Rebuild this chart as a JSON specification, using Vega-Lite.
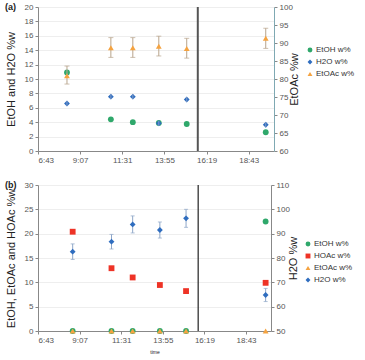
{
  "$schema": "https://vega.github.io/schema/vega-lite/v6.json",
  "padding": {"left": 5, "top": 3, "right": 2, "bottom": 0},
  "config": {
    "font": "Liberation Sans",
    "view": {"stroke": null},
    "axis": {"labelFontSize": 8, "labelColor": "#555555", "tickColor": "#888888", "domainColor": "#888888", "tickSize": 3, "titleFontSize": 11, "titleFontWeight": "normal", "titleColor": "#222222", "gridColor": "#eeeeee", "labelPadding": 2, "labelOverlap": false},
    "legend": {"labelFontSize": 8, "labelColor": "#333333", "symbolSize": 24, "rowPadding": 4, "labelOffset": 2},
    "title": {"fontSize": 9, "fontWeight": "bold", "color": "#222222"}
  },
  "datasets": {
    "a": [
      {"time": 8.37, "series": "EtOH w%", "value": 10.9},
      {"time": 10.87, "series": "EtOH w%", "value": 4.4},
      {"time": 12.12, "series": "EtOH w%", "value": 4.0},
      {"time": 13.6, "series": "EtOH w%", "value": 3.9},
      {"time": 15.19, "series": "EtOH w%", "value": 3.75},
      {"time": 19.69, "series": "EtOH w%", "value": 2.6},
      {"time": 8.37, "series": "H2O w%", "value": 6.6, "lo": 6.25, "hi": 6.95},
      {"time": 10.87, "series": "H2O w%", "value": 7.55, "lo": 7.2, "hi": 7.9},
      {"time": 12.12, "series": "H2O w%", "value": 7.55, "lo": 7.2, "hi": 7.9},
      {"time": 13.6, "series": "H2O w%", "value": 3.85, "lo": 3.5, "hi": 4.2},
      {"time": 15.19, "series": "H2O w%", "value": 7.15, "lo": 6.8, "hi": 7.5},
      {"time": 19.69, "series": "H2O w%", "value": 3.65, "lo": 3.3, "hi": 4.0},
      {"time": 8.37, "series": "EtOAc w%", "value": 80.9, "lo": 78.6, "hi": 83.6},
      {"time": 10.87, "series": "EtOAc w%", "value": 88.7, "lo": 86.0, "hi": 91.5},
      {"time": 12.12, "series": "EtOAc w%", "value": 88.7, "lo": 86.0, "hi": 91.5},
      {"time": 13.6, "series": "EtOAc w%", "value": 89.1, "lo": 86.4, "hi": 91.9},
      {"time": 15.19, "series": "EtOAc w%", "value": 88.5, "lo": 85.8, "hi": 91.3},
      {"time": 19.69, "series": "EtOAc w%", "value": 91.3, "lo": 88.5, "hi": 94.1}
    ],
    "b": [
      {"time": 8.72, "series": "EtOH w%", "value": 0},
      {"time": 10.96, "series": "EtOH w%", "value": 0},
      {"time": 12.18, "series": "EtOH w%", "value": 0},
      {"time": 13.75, "series": "EtOH w%", "value": 0},
      {"time": 15.26, "series": "EtOH w%", "value": 0},
      {"time": 19.85, "series": "EtOH w%", "value": 22.5},
      {"time": 8.72, "series": "HOAc w%", "value": 20.4},
      {"time": 10.96, "series": "HOAc w%", "value": 12.9},
      {"time": 12.18, "series": "HOAc w%", "value": 11.0},
      {"time": 13.75, "series": "HOAc w%", "value": 9.45},
      {"time": 15.26, "series": "HOAc w%", "value": 8.2},
      {"time": 19.85, "series": "HOAc w%", "value": 9.9},
      {"time": 8.72, "series": "EtOAc w%", "value": 0},
      {"time": 10.96, "series": "EtOAc w%", "value": 0},
      {"time": 12.18, "series": "EtOAc w%", "value": 0},
      {"time": 13.75, "series": "EtOAc w%", "value": 0},
      {"time": 15.26, "series": "EtOAc w%", "value": 0},
      {"time": 19.85, "series": "EtOAc w%", "value": 0},
      {"time": 8.72, "series": "H2O w%", "value": 82.6, "lo": 79.4, "hi": 85.8},
      {"time": 10.96, "series": "H2O w%", "value": 86.7, "lo": 83.7, "hi": 89.7},
      {"time": 12.18, "series": "H2O w%", "value": 93.8, "lo": 90.3, "hi": 97.3},
      {"time": 13.75, "series": "H2O w%", "value": 91.5, "lo": 88.2, "hi": 94.8},
      {"time": 15.26, "series": "H2O w%", "value": 96.3, "lo": 92.6, "hi": 100.0},
      {"time": 19.85, "series": "H2O w%", "value": 64.8, "lo": 62.1, "hi": 67.5}
    ],
    "ea": [{"t": 15.82}],
    "eb": [{"t": 15.96}]
  },
  "spacing": 17,
  "vconcat": [
    {
      "title": {"text": "(a)", "anchor": "start", "frame": "group", "dx": -33, "offset": -9},
      "width": 236,
      "height": 144,
      "data": {"name": "a"},
      "layer": [
        {
          "transform": [{"filter": "datum.series == 'EtOH w%' || datum.series == 'H2O w%'"}],
          "encoding": {
            "x": {"field": "time", "type": "quantitative", "scale": {"domain": [6.72, 20.16], "nice": false, "zero": false}, "axis": {"values": [6.72, 9.12, 11.52, 13.92, 16.32, 18.72], "labelExpr": "floor(datum.value) + ':' + format(round((datum.value - floor(datum.value)) * 60), '02d')", "title": null, "grid": false}}
          },
          "layer": [
            {
              "mark": {"type": "point", "filled": true, "opacity": 1, "size": 34},
              "encoding": {
                "y": {"field": "value", "type": "quantitative", "scale": {"domain": [0, 20], "nice": false}, "title": "EtOH and H2O %w", "axis": {"values": [0, 2, 4, 6, 8, 10, 12, 14, 16, 18, 20], "labelOverlap": false, "grid": true, "titlePadding": 8}},
                "color": {"field": "series", "type": "nominal", "scale": {"domain": ["EtOH w%", "H2O w%", "EtOAc w%"], "range": ["#2fa86b", "#2f6dbf", "#f5a340"]}, "legend": {"title": null, "orient": "none", "legendX": 268, "legendY": 39}},
                "shape": {"field": "series", "type": "nominal", "scale": {"domain": ["EtOH w%", "H2O w%", "EtOAc w%"], "range": ["circle", "diamond", "triangle-up"]}, "legend": {"title": null, "orient": "none", "legendX": 268, "legendY": 39}}
              }
            },
            {
              "transform": [{"filter": "datum.lo != null"}],
              "mark": {"type": "rule", "color": "#7f9cc8", "strokeWidth": 1},
              "encoding": {
                "y": {"field": "lo", "type": "quantitative", "title": "EtOH and H2O %w", "axis": {"values": [0, 2, 4, 6, 8, 10, 12, 14, 16, 18, 20], "labelOverlap": false, "grid": true, "titlePadding": 8}},
                "y2": {"field": "hi"}
              }
            }
          ]
        },
        {
          "transform": [{"filter": "datum.series == 'EtOAc w%'"}],
          "encoding": {
            "x": {"field": "time", "type": "quantitative"}
          },
          "layer": [
            {
              "mark": {"type": "rule", "color": "#b8a48c", "strokeWidth": 1},
              "encoding": {
                "y": {"field": "lo", "type": "quantitative", "title": "EtOAc %w", "axis": {"orient": "right", "values": [60, 65, 70, 75, 80, 85, 90, 95, 100], "labelOverlap": false, "grid": false, "titleAngle": 270, "titlePadding": 7, "domainColor": "#7fa9b3"}},
                "y2": {"field": "hi"}
              }
            },
            {
              "mark": {"type": "tick", "orient": "horizontal", "color": "#b8a48c", "size": 5, "thickness": 1},
              "encoding": {
                "y": {"field": "lo", "type": "quantitative", "title": "EtOAc %w", "axis": {"orient": "right", "values": [60, 65, 70, 75, 80, 85, 90, 95, 100], "labelOverlap": false, "grid": false, "titleAngle": 270, "titlePadding": 7, "domainColor": "#7fa9b3"}}
              }
            },
            {
              "mark": {"type": "tick", "orient": "horizontal", "color": "#b8a48c", "size": 5, "thickness": 1},
              "encoding": {
                "y": {"field": "hi", "type": "quantitative", "title": "EtOAc %w", "axis": {"orient": "right", "values": [60, 65, 70, 75, 80, 85, 90, 95, 100], "labelOverlap": false, "grid": false, "titleAngle": 270, "titlePadding": 7, "domainColor": "#7fa9b3"}}
              }
            },
            {
              "mark": {"type": "point", "filled": true, "opacity": 1, "size": 34},
              "encoding": {
                "y": {"field": "value", "type": "quantitative", "scale": {"domain": [60, 100], "nice": false, "zero": false}, "title": "EtOAc %w", "axis": {"orient": "right", "values": [60, 65, 70, 75, 80, 85, 90, 95, 100], "labelOverlap": false, "grid": false, "titleAngle": 270, "titlePadding": 7, "domainColor": "#7fa9b3"}},
                "color": {"field": "series", "type": "nominal", "scale": {"domain": ["EtOH w%", "H2O w%", "EtOAc w%"], "range": ["#2fa86b", "#2f6dbf", "#f5a340"]}, "legend": {"title": null, "orient": "none", "legendX": 268, "legendY": 39}},
                "shape": {"field": "series", "type": "nominal", "scale": {"domain": ["EtOH w%", "H2O w%", "EtOAc w%"], "range": ["circle", "diamond", "triangle-up"]}, "legend": {"title": null, "orient": "none", "legendX": 268, "legendY": 39}}
              }
            }
          ]
        },
        {
          "data": {"name": "ea"},
          "mark": {"type": "rule", "color": "#555555", "strokeWidth": 2},
          "encoding": {"x": {"field": "t", "type": "quantitative"}}
        }
      ],
      "resolve": {"scale": {"y": "independent"}}
    },
    {
      "title": {"text": "(b)", "anchor": "start", "frame": "group", "dx": -33, "offset": -9},
      "width": 233,
      "height": 146,
      "data": {"name": "b"},
      "layer": [
        {
          "transform": [{"filter": "datum.series != 'H2O w%'"}],
          "mark": {"type": "point", "filled": true, "opacity": 1, "size": 34},
          "encoding": {
            "x": {"field": "time", "type": "quantitative", "scale": {"domain": [6.72, 20.16], "nice": false, "zero": false}, "axis": {"values": [6.72, 9.12, 11.52, 13.92, 16.32, 18.72], "labelExpr": "floor(datum.value) + ':' + format(round((datum.value - floor(datum.value)) * 60), '02d')", "title": "time", "titleFontSize": 5, "titlePadding": 5, "grid": false}},
            "y": {"field": "value", "type": "quantitative", "scale": {"domain": [0, 30], "nice": false}, "title": "EtOH, EtOAc and HOAc %w", "axis": {"values": [0, 5, 10, 15, 20, 25, 30], "grid": true, "titlePadding": 8}},
            "color": {"field": "series", "type": "nominal", "scale": {"domain": ["EtOH w%", "HOAc w%", "EtOAc w%", "H2O w%"], "range": ["#2fa86b", "#ee3326", "#f5a340", "#2f6dbf"]}, "legend": {"title": null, "orient": "none", "legendX": 266, "legendY": 55}},
            "shape": {"field": "series", "type": "nominal", "scale": {"domain": ["EtOH w%", "HOAc w%", "EtOAc w%", "H2O w%"], "range": ["circle", "square", "triangle-up", "diamond"]}, "legend": {"title": null, "orient": "none", "legendX": 266, "legendY": 55}}
          }
        },
        {
          "transform": [{"filter": "datum.series == 'H2O w%'"}],
          "encoding": {
            "x": {"field": "time", "type": "quantitative"}
          },
          "layer": [
            {
              "mark": {"type": "rule", "color": "#8ea6c8", "strokeWidth": 1},
              "encoding": {
                "y": {"field": "lo", "type": "quantitative", "title": "H2O %w", "axis": {"orient": "right", "values": [50, 60, 70, 80, 90, 100, 110], "labelOverlap": false, "grid": false, "titleAngle": 270, "titlePadding": 9}},
                "y2": {"field": "hi"}
              }
            },
            {
              "mark": {"type": "tick", "orient": "horizontal", "color": "#8ea6c8", "size": 4, "thickness": 1},
              "encoding": {
                "y": {"field": "lo", "type": "quantitative", "title": "H2O %w", "axis": {"orient": "right", "values": [50, 60, 70, 80, 90, 100, 110], "labelOverlap": false, "grid": false, "titleAngle": 270, "titlePadding": 9}}
              }
            },
            {
              "mark": {"type": "tick", "orient": "horizontal", "color": "#8ea6c8", "size": 4, "thickness": 1},
              "encoding": {
                "y": {"field": "hi", "type": "quantitative", "title": "H2O %w", "axis": {"orient": "right", "values": [50, 60, 70, 80, 90, 100, 110], "labelOverlap": false, "grid": false, "titleAngle": 270, "titlePadding": 9}}
              }
            },
            {
              "mark": {"type": "point", "filled": true, "opacity": 1, "size": 34},
              "encoding": {
                "y": {"field": "value", "type": "quantitative", "scale": {"domain": [50, 110], "nice": false, "zero": false}, "title": "H2O %w", "axis": {"orient": "right", "values": [50, 60, 70, 80, 90, 100, 110], "labelOverlap": false, "grid": false, "titleAngle": 270, "titlePadding": 9}},
                "color": {"field": "series", "type": "nominal", "scale": {"domain": ["EtOH w%", "HOAc w%", "EtOAc w%", "H2O w%"], "range": ["#2fa86b", "#ee3326", "#f5a340", "#2f6dbf"]}, "legend": {"title": null, "orient": "none", "legendX": 266, "legendY": 55}},
                "shape": {"field": "series", "type": "nominal", "scale": {"domain": ["EtOH w%", "HOAc w%", "EtOAc w%", "H2O w%"], "range": ["circle", "square", "triangle-up", "diamond"]}, "legend": {"title": null, "orient": "none", "legendX": 266, "legendY": 55}}
              }
            }
          ]
        },
        {
          "data": {"name": "eb"},
          "mark": {"type": "rule", "color": "#333333", "strokeWidth": 1.3},
          "encoding": {"x": {"field": "t", "type": "quantitative"}}
        }
      ],
      "resolve": {"scale": {"y": "independent"}}
    }
  ],
  "resolve": {"scale": {"color": "independent", "shape": "independent"}}
}
